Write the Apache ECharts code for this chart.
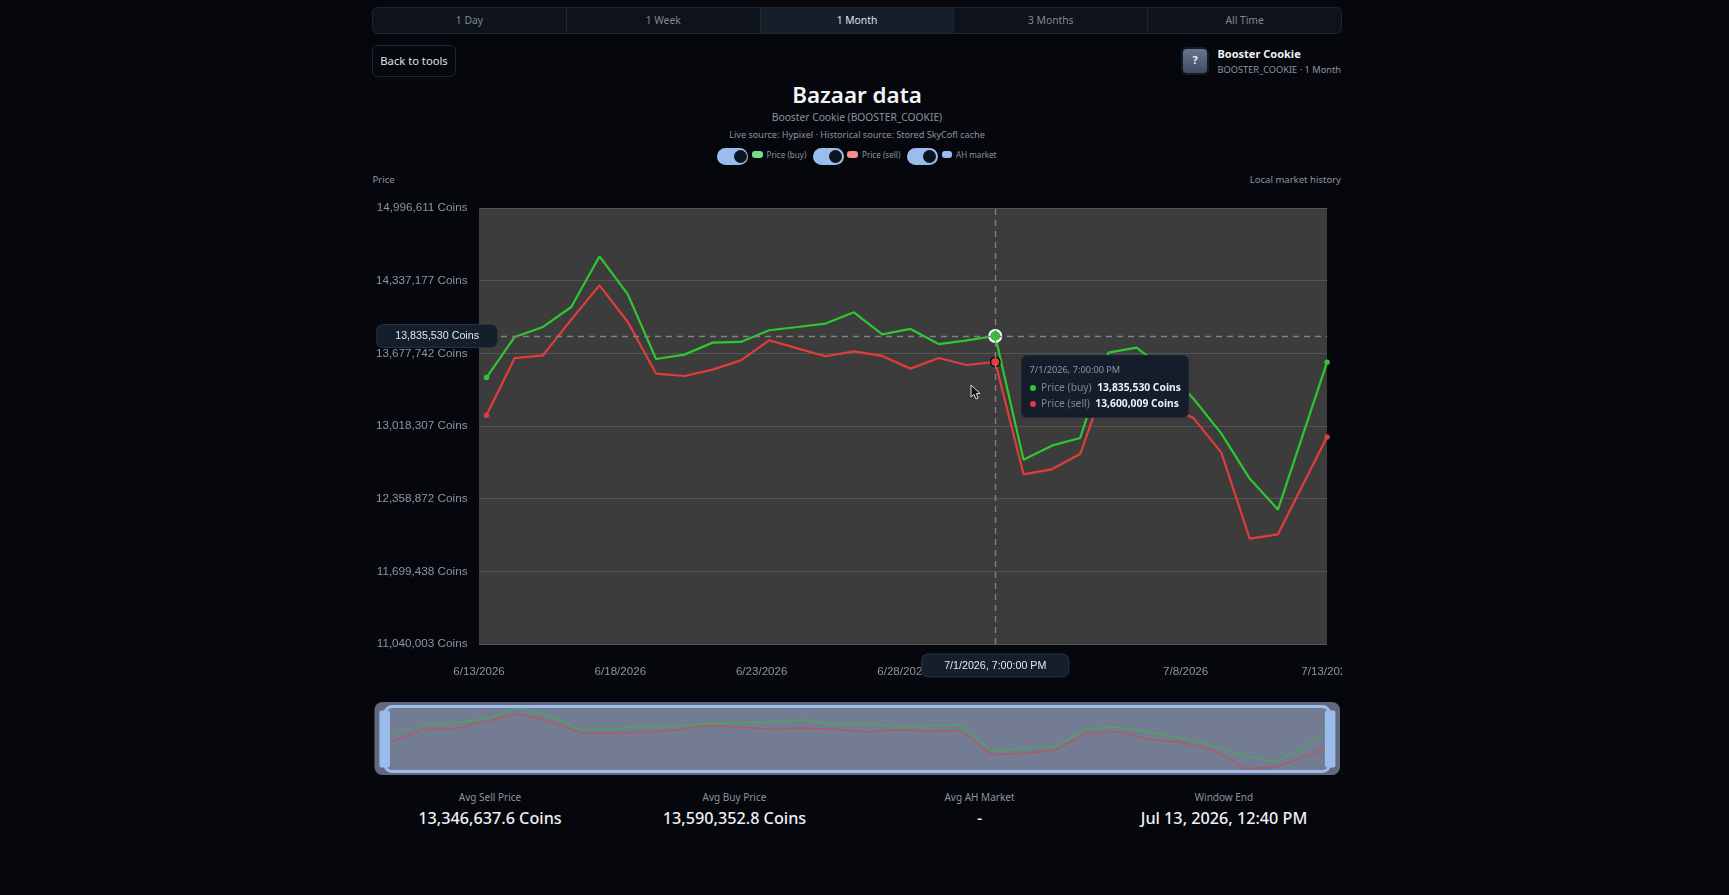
<!DOCTYPE html>
<html lang="en">
<head>
<meta charset="utf-8">
<title>Bazaar data</title>
<script src="https://cdn.jsdelivr.net/npm/echarts@6/dist/echarts.min.js"></script>
<style>
  html, body { margin: 0; height: 100%; background: #05070c; overflow: hidden; }
  body { position: relative; width: 1729px; height: 895px; font-family: "Noto Sans", sans-serif; color: #8c94a1; }
  .abs { position: absolute; white-space: nowrap; line-height: 1; }
  .center { transform: translateX(-50%); }
  #tabs { position: absolute; left: 372px; top: 7px; width: 970px; height: 27px; box-sizing: border-box; display: flex;
          border: 1px solid #1c2736; border-radius: 6px; background: #0e131b; overflow: hidden; }
  #tabs div { flex: 1; text-align: center; font-size: 10.3px; line-height: 25.5px; color: #7f8794; border-left: 1px solid #1c2736; }
  #tabs div:first-child { border-left: 0; }
  #tabs div.on { background: #161e29; color: #dfe4ea; }
  #back { position: absolute; left: 372px; top: 45px; width: 84px; height: 32px; box-sizing: border-box; border: 1px solid #1c2736;
          border-radius: 6px; text-align: center; font-size: 11.2px; line-height: 30px; color: #dfe4ea; }
  #icon { position: absolute; left: 1181px; top: 47px; width: 28px; height: 28px; box-sizing: border-box; border: 2.5px solid #121b28;
          border-radius: 6px; background: linear-gradient(180deg, #66768f, #3f4c60); text-align: center; color: #eef1f5;
          font-size: 11px; font-weight: 700; line-height: 22px; }
  .switch { position: absolute; top: 148px; width: 31px; height: 17px; box-sizing: border-box; border-radius: 9px; background: #9bbdee; }
  .switch i { position: absolute; right: 1.5px; top: 2px; width: 13px; height: 13px; border-radius: 50%; background: #0d1420; }
  .pill { position: absolute; top: 151px; width: 10.5px; height: 6.5px; border-radius: 3px; }
  #chart { position: absolute; left: 372px; top: 180px; width: 970px; height: 600px; }
  .tt { font-family: "Noto Sans", sans-serif; }
  .tt .when { font-size: 9.2px; color: #8a94a3; margin-bottom: 3.5px; line-height: 12px; }
  .tt .row { display: flex; align-items: center; height: 16px; font-size: 10.3px; white-space: nowrap; }
  .tt .dot { width: 6px; height: 6px; border-radius: 50%; margin-right: 5.5px; }
  .tt .name { color: #7d8796; }
  .tt b { color: #eef1f5; font-weight: 700; margin-left: 5.5px; }
</style>
</head>
<body>
<div id="tabs"></div>
<div id="back">Back to tools</div>
<div id="icon">?</div>
<div class="abs" style="left:1217.5px;top:48px;font-size:11px;font-weight:700;color:#eef1f5">Booster Cookie</div>
<div class="abs" style="right:388px;top:65px;font-size:9.25px">BOOSTER_COOKIE · 1 Month</div>
<div class="abs center" style="left:857px;top:83.5px;font-size:22.4px;font-weight:600;color:#f2f4f7">Bazaar data</div>
<div class="abs center" style="left:857px;top:112px;font-size:10.25px">Booster Cookie (BOOSTER_COOKIE)</div>
<div class="abs center" style="left:857px;top:130px;font-size:9.1px">Live source: Hypixel · Historical source: Stored SkyCofl cache</div>
<div class="switch" style="left:717px"><i></i></div>
<div class="pill" style="left:752px;background:#6fe08c"></div>
<div class="abs" style="left:766.5px;top:150.5px;font-size:8.1px">Price (buy)</div>
<div class="switch" style="left:812.5px"><i></i></div>
<div class="pill" style="left:847px;background:#f58c8f"></div>
<div class="abs" style="left:862px;top:150.5px;font-size:8.1px">Price (sell)</div>
<div class="switch" style="left:906.5px"><i></i></div>
<div class="pill" style="left:941.5px;background:#9bbdee"></div>
<div class="abs" style="left:956px;top:150.5px;font-size:8.1px">AH market</div>
<div class="abs" style="left:372.5px;top:174.5px;font-size:9.6px">Price</div>
<div class="abs" style="right:388px;top:174.5px;font-size:9.55px">Local market history</div>
<div id="chart"></div>
<div id="stats"></div>
<svg class="abs" style="left:970px;top:384px" width="12" height="17" viewBox="0 0 12 17">
  <path d="M1 1 L1 13 L4 10.4 L6 15 L8.2 14 L6.3 9.6 L10 9.4 Z" fill="#111" stroke="#ddd" stroke-width="1"/>
</svg>
<script>
// Range selector, headline figures and axis scale
const tabLabels = ['1 Day', '1 Week', '1 Month', '3 Months', 'All Time'];
const activeTab = '1 Month';
const statLabels = ['Avg Sell Price', 'Avg Buy Price', 'Avg AH Market', 'Window End'];
const statValues = ['13,346,637.6 Coins', '13,590,352.8 Coins', '-', 'Jul 13, 2026, 12:40 PM'];
const windowStart = '2026-06-13T12:40:00Z';
const priceMin = 11040003;
const priceMax = 14996611.32;
const priceStep = 659434.72;
const dayStep = 5;
const windowDays = 30;

// Sample times and prices
const sampleTimes = [
  '2026-06-13T19:00:00Z', '2026-06-14T19:00:00Z', '2026-06-15T19:00:00Z', '2026-06-16T19:00:00Z',
  '2026-06-17T19:00:00Z', '2026-06-18T19:00:00Z', '2026-06-19T19:00:00Z', '2026-06-20T19:00:00Z',
  '2026-06-21T19:00:00Z', '2026-06-22T19:00:00Z', '2026-06-23T19:00:00Z', '2026-06-24T19:00:00Z',
  '2026-06-25T19:00:00Z', '2026-06-26T19:00:00Z', '2026-06-27T19:00:00Z', '2026-06-28T19:00:00Z',
  '2026-06-29T19:00:00Z', '2026-06-30T19:00:00Z', '2026-07-01T19:00:00Z', '2026-07-02T19:00:00Z',
  '2026-07-03T19:00:00Z', '2026-07-04T19:00:00Z', '2026-07-05T19:00:00Z', '2026-07-06T19:00:00Z',
  '2026-07-07T19:00:00Z', '2026-07-08T19:00:00Z', '2026-07-09T19:00:00Z', '2026-07-10T19:00:00Z',
  '2026-07-11T19:00:00Z', '2026-07-13T12:40:00Z'
];
const priceBuy = [
  13457500, 13826000, 13917000, 14098000, 14558000, 14213000, 13626000, 13666000, 13775000, 13781000,
  13887000, 13917000, 13948000, 14050000, 13850000, 13899000, 13762000, 13796000, 13835530, 12713000,
  12840000, 12909000, 13684000, 13730000, 13533000, 13270000, 12949000, 12541000, 12260000, 13596000
];
const priceSell = [
  13115000, 13635000, 13660000, 13984000, 14295000, 13962000, 13494000, 13472000, 13530000, 13614000,
  13796000, 13723000, 13651000, 13696000, 13654000, 13539000, 13635000, 13572000, 13600009, 12580000,
  12625000, 12764000, 13478000, 13551000, 13206000, 13094000, 12777000, 11996000, 12035000, 12918000
];
const hoverIndex = 18;

const BUY = '#2fc72f', SELL = '#e03c3c';
const AXIS_FONT = '"Liberation Sans", Arial, sans-serif';
const MS_DAY = 86400000;
const startMs = Date.parse(windowStart);
const dayOffset = s => (Date.parse(s) - startMs) / MS_DAY;
const when = days => new Date(startMs + days * MS_DAY);
const dateLabel = days => when(days).toLocaleDateString('en-US', { timeZone: 'UTC' });
const stampLabel = days => when(days).toLocaleString('en-US', { timeZone: 'UTC' }).replace(/\u202f/g, ' ');
const coins = v => Math.round(v).toLocaleString('en-US') + ' Coins';

document.getElementById('tabs').innerHTML = tabLabels
  .map(t => `<div class="${t === activeTab ? 'on' : ''}">${t}</div>`).join('');
const statCentres = [490, 734.5, 979.5, 1224];
document.getElementById('stats').innerHTML = statLabels.map((l, i) =>
  `<div class="abs center" style="left:${statCentres[i]}px;top:792px;font-size:10px">${l}</div>` +
  `<div class="abs center" style="left:${statCentres[i]}px;top:810px;font-size:16.2px;font-weight:500;color:#eef1f5">${statValues[i]}</div>`
).join('');

// Builds one price line; only the ends and the hovered sample carry a dot
function mainPoints(values, colour, hoverStyle) {
  const last = values.length - 1;
  return values.map((v, i) => {
    const item = { value: [dayOffset(sampleTimes[i]), v] };
    if (i === hoverIndex) Object.assign(item, hoverStyle);
    else if (i === 0 || i === last) Object.assign(item, { symbol: 'circle', symbolSize: 5.5, itemStyle: { color: colour } });
    return item;
  });
}
const miniPoints = values => values.map((v, i) => [dayOffset(sampleTimes[i]), v]);

function lineSeries(name, values, colour, hoverStyle) {
  return {
    name, type: 'line', xAxisIndex: 0, yAxisIndex: 0, data: mainPoints(values, colour, hoverStyle),
    symbol: 'none', showSymbol: true, showAllSymbol: true, clip: false, z: 3,
    lineStyle: { color: colour, width: 2.2 }, itemStyle: { color: colour },
    emphasis: { disabled: true }, animation: false
  };
}
function miniSeries(name, values, colour) {
  return {
    name, type: 'line', xAxisIndex: 1, yAxisIndex: 1, data: miniPoints(values), symbol: 'none', z: 5, silent: true,
    lineStyle: { color: colour, width: 1.2, opacity: 0.62 }, tooltip: { show: false }, animation: false
  };
}

const pointerLabel = {
  show: true, backgroundColor: '#151f2c', borderColor: '#263244', borderWidth: 1, borderRadius: 6,
  color: '#e2e6ec', fontFamily: AXIS_FONT, fontSize: 10.7, shadowBlur: 0
};
const pointerLine = { color: '#808080', width: 1.4, type: [6, 5] };
const ORIGIN = { x: 372, y: 180 };

const chart = echarts.init(document.getElementById('chart'));
chart.setOption({
  animation: false,
  backgroundColor: 'transparent',
  grid: [
    { left: 107, top: 28, width: 848, height: 436, backgroundColor: '#3c3c3c', show: true, borderWidth: 0, outerBoundsMode: 'none' },
    { left: 383.5 - ORIGIN.x, top: 707.7 - ORIGIN.y, width: 947.5, height: 60.6, show: false, outerBoundsMode: 'none' }
  ],
  xAxis: [
    {
      type: 'value', gridIndex: 0, min: 0, max: windowDays, interval: dayStep,
      axisLine: { show: false }, axisTick: { show: false }, splitLine: { show: false },
      axisLabel: {
        color: '#8b95a5', fontFamily: AXIS_FONT, fontSize: 11.6, margin: 22, hideOverlap: false,
        showMinLabel: true, showMaxLabel: true, formatter: dateLabel
      },
      axisPointer: {
        show: true, status: 'show', snap: false, value: dayOffset(sampleTimes[hoverIndex]), type: 'line', lineStyle: pointerLine,
        label: { ...pointerLabel, padding: [6, 22, 5, 22], margin: 10.5, formatter: p => stampLabel(p.value) }
      }
    },
    { type: 'value', gridIndex: 1, min: 0, max: windowDays, show: false, axisPointer: { show: false } }
  ],
  yAxis: [
    {
      type: 'value', gridIndex: 0, min: priceMin, max: priceMax, interval: priceStep,
      axisLine: { show: false }, axisTick: { show: false },
      splitLine: { show: true, lineStyle: { color: '#555555', width: 1 } },
      axisLabel: {
        color: '#8b95a5', fontFamily: AXIS_FONT, fontSize: 11.7, margin: 11.5, padding: [2, 0, 0, 0],
        showMinLabel: true, showMaxLabel: true, formatter: coins
      },
      axisPointer: {
        show: true, status: 'show', snap: false, value: priceBuy[hoverIndex], type: 'line', lineStyle: pointerLine,
        label: { ...pointerLabel, padding: [6, 18, 5, 18], margin: -18, formatter: p => coins(p.value) }
      }
    },
    { type: 'value', gridIndex: 1, min: 'dataMin', max: 'dataMax', show: false, axisPointer: { show: false } }
  ],
  dataZoom: [{
    type: 'slider', xAxisIndex: 0, filterMode: 'none', start: 0, end: 100,
    left: 383.5 - ORIGIN.x, width: 947.5, top: 705 - ORIGIN.y, height: 68,
    showDetail: false, showDataShadow: false, brushSelect: false, moveHandleSize: 0,
    backgroundColor: 'transparent', borderColor: 'transparent', fillerColor: 'transparent',
    handleIcon: 'path://M2,0 H8.5 Q10.5,0 10.5,2 V55 Q10.5,57 8.5,57 H2 Q0,57 0,55 V2 Q0,0 2,0 Z',
    handleSize: 57, handleStyle: { color: '#9bbdee', borderWidth: 0 }, z: 8
  }],
  tooltip: {
    show: true, trigger: 'axis', alwaysShowContent: true, transitionDuration: 0, showDelay: 0, hideDelay: 0,
    position: [649, 175], padding: [8, 7.5, 5.5, 7.5],
    backgroundColor: '#151d2a', borderColor: '#1e2836', borderWidth: 1,
    extraCssText: 'border-radius:6px;box-shadow:none;',
    axisPointer: { type: 'none' },
    formatter: params => {
      const seen = new Set();
      const rows = params.filter(p => {
        if (p.seriesIndex > 1 || seen.has(p.seriesIndex)) return false;
        seen.add(p.seriesIndex);
        return true;
      }).map(p =>
        `<div class="row"><span class="dot" style="background:${p.seriesIndex === 0 ? BUY : SELL}"></span>` +
        `<span class="name">${p.seriesName}</span><b>${coins(p.value[1])}</b></div>`).join('');
      return `<div class="tt"><div class="when">${stampLabel(params[0].value[0])}</div>${rows}</div>`;
    }
  },
  graphic: [
    // Slider track, the selected window's fill, and the window's rim above the overview lines
    { type: 'rect', z: 1, silent: true, shape: { x: 374.5 - ORIGIN.x, y: 702 - ORIGIN.y, width: 965.5, height: 73, r: 8 }, style: { fill: '#62687d' } },
    { type: 'rect', z: 2, silent: true, shape: { x: 385 - ORIGIN.x, y: 706.5 - ORIGIN.y, width: 944.5, height: 65, r: 7 }, style: { fill: '#747c93' } },
    { type: 'rect', z: 7, silent: true, shape: { x: 385 - ORIGIN.x, y: 706.5 - ORIGIN.y, width: 944.5, height: 65, r: 7 }, style: { fill: 'none', stroke: '#9bbdee', lineWidth: 3 } }
  ],
  series: [
    lineSeries('Price (buy)', priceBuy, BUY, { symbol: 'circle', symbolSize: 11, itemStyle: { color: BUY, borderColor: '#ffffff', borderWidth: 2 } }),
    lineSeries('Price (sell)', priceSell, SELL, { symbol: 'circle', symbolSize: 8.5, itemStyle: { color: SELL, borderColor: '#0a0a0a', borderWidth: 1.5 } }),
    miniSeries('Buy overview', priceBuy, BUY),
    miniSeries('Sell overview', priceSell, SELL)
  ]
});
chart.dispatchAction({ type: 'showTip', seriesIndex: 0, dataIndex: hoverIndex });
</script>
</body>
</html>
